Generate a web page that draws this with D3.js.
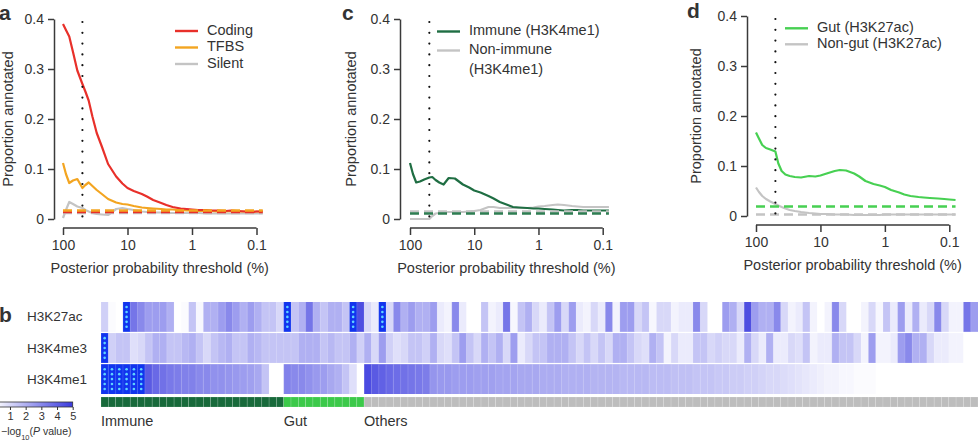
<!DOCTYPE html>
<html><head><meta charset="utf-8">
<script src="https://cdn.jsdelivr.net/npm/d3@7"></script>
<style>
body{margin:0;background:#fff}
svg{display:block}
text{font-family:"Liberation Sans",Arial,Helvetica,sans-serif;fill:#333}
</style>
</head><body>
<svg id="chart" width="978" height="444"></svg>
<script>
// ---------- line-panel data ----------
const thresholds = [100, 90, 80, 70, 60, 50, 45, 40, 35, 30, 25, 20, 15, 12, 10, 8, 6, 5, 4, 3, 2.5, 2, 1.5, 1.2, 1, 0.8, 0.6, 0.5, 0.4, 0.3, 0.25, 0.2, 0.15, 0.12, 0.1, 0.08];
const coding = [0.39, 0.378, 0.365, 0.334, 0.297, 0.27, 0.255, 0.237, 0.205, 0.172, 0.145, 0.11, 0.085, 0.071, 0.062, 0.056, 0.05, 0.045, 0.038, 0.032, 0.028, 0.024, 0.021, 0.02, 0.019, 0.018, 0.018, 0.017, 0.017, 0.016, 0.017, 0.016, 0.015, 0.014, 0.015, 0.015];
const tfbs = [0.112, 0.09, 0.072, 0.077, 0.08, 0.062, 0.068, 0.073, 0.066, 0.058, 0.05, 0.04, 0.033, 0.03, 0.029, 0.026, 0.023, 0.022, 0.021, 0.02, 0.019, 0.019, 0.018, 0.017, 0.017, 0.016, 0.016, 0.016, 0.015, 0.015, 0.016, 0.015, 0.015, 0.014, 0.015, 0.015];
const silent = [0.002, 0.018, 0.034, 0.03, 0.025, 0.022, 0.018, 0.015, 0.012, 0.01, 0.009, 0.008, 0.02, 0.022, 0.02, 0.018, 0.015, 0.014, 0.013, 0.013, 0.012, 0.012, 0.012, 0.012, 0.012, 0.012, 0.011, 0.011, 0.011, 0.011, 0.011, 0.011, 0.011, 0.011, 0.011, 0.011];
const immune = [0.112, 0.09, 0.073, 0.075, 0.079, 0.083, 0.084, 0.078, 0.073, 0.069, 0.082, 0.081, 0.069, 0.063, 0.057, 0.053, 0.046, 0.041, 0.034, 0.028, 0.024, 0.023, 0.022, 0.021, 0.021, 0.02, 0.019, 0.018, 0.017, 0.018, 0.018, 0.017, 0.017, 0.017, 0.017, 0.017];
const nonImmune = [0, 0, 0, 0, 0, 0, 0.006, 0.011, 0.012, 0.013, 0.014, 0.014, 0.014, 0.015, 0.016, 0.018, 0.024, 0.024, 0.022, 0.022, 0.022, 0.022, 0.022, 0.023, 0.025, 0.026, 0.028, 0.029, 0.028, 0.026, 0.025, 0.024, 0.024, 0.024, 0.024, 0.024];
const gut = [0.167, 0.155, 0.142, 0.136, 0.133, 0.129, 0.105, 0.09, 0.083, 0.08, 0.078, 0.077, 0.08, 0.079, 0.081, 0.085, 0.09, 0.092, 0.091, 0.085, 0.079, 0.07, 0.064, 0.061, 0.058, 0.052, 0.047, 0.043, 0.04, 0.038, 0.037, 0.036, 0.035, 0.034, 0.033, 0.032];
const nonGut = [0.057, 0.048, 0.04, 0.034, 0.029, 0.024, 0.021, 0.018, 0.015, 0.012, 0.01, 0.008, 0.006, 0.005, 0.004, 0.004, 0.003, 0.003, 0.003, 0.002, 0.002, 0.002, 0.002, 0.002, 0.003, 0.003, 0.003, 0.003, 0.003, 0.003, 0.003, 0.003, 0.003, 0.003, 0.003, 0.003];
// dashed background (expected) proportions
const baselinesA = [0.014, 0.017, 0.012];   // coding, TFBS, silent
const baselinesC = [0.015, 0.011];          // non-immune, immune
const baselinesD = [0.003, 0.019];          // non-gut, gut
const cutoff = 50;                          // dotted threshold (%)
const yTicks = [0, 0.1, 0.2, 0.3, 0.4];
const xTicks = [100, 10, 1, 0.1];
const xTickLabels = ["100", "10", "1", "0.1"];

// ---------- heatmap data ----------
const marks = ["H3K27ac", "H3K4me3", "H3K4me1"];
const groups = ["Immune", "Gut", "Others"];
const groupSizes = [25, 11, 84];
const k27acImmune = [1.2, 0.1, 0, 6, 3.5, 3.0, 2.5, 2.5, 2.5, 2.0, 0, 0.1, 1.5, 0.2, 2.0, 2.0, 2.5, 3.0, 2.5, 2.0, 2.5, 2.0, 1.5, 1.5, 1.0];
const k27acGut = [6, 1.5, 2.0, 3.5, 2.0, 1.5, 2.0, 2.0, 1.5, 6, 4.5];
const k27acOthers = [1.0, 0.5, 6, 1.0, 3.0, 2.0, 2.5, 2.0, 2.0, 2.5,
  0.5, 0.3, 3.0, 0.5, 0, 0, 1.5, 0.3, 0.5, 3.5,
  0.2, 1.5, 2.0, 1.0, 0.5, 1.5, 2.5, 1.0, 2.5, 0.5,
  0.3, 1.0, 0.5, 3.0, 0.3, 2.5, 2.5, 1.0, 1.5, 0.2,
  1.0, 1.0, 0.3, 0.5, 0.5, 3.0, 1.0, 0, 0, 2.5,
  2.0, 1.0, 4.5, 2.5, 2.0, 2.0, 3.0, 1.0, 0.3, 0.5,
  1.5, 0.3, 0, 0.3, 3.0, 1.0, 0, 0, 0.3, 1.0,
  0.2, 1.5, 0.5, 2.5, 0.5, 2.0, 0.5, 1.0, 3.0, 1.0,
  0.3, 0.3, 3.5, 2.5];
const k4me3Immune = [6, 1.2, 1.5, 1.5, 0.8, 1.0, 1.5, 2.0, 2.0, 1.5, 1.5, 1.8, 2.0, 1.5, 1.0, 1.5, 1.8, 2.0, 1.5, 1.5, 2.0, 1.8, 1.5, 1.5, 1.5];
const k4me3Gut = [1.5, 1.5, 2.0, 2.0, 2.0, 1.5, 1.8, 1.5, 1.5, 2.0, 1.2];
const k4me3Others = [2.0, 1.0, 2.5, 1.2, 0.8, 1.0, 1.5, 1.5, 1.2, 2.0,
  1.0, 0.8, 1.5, 2.5, 1.5, 1.0, 2.0, 1.5, 2.0, 1.0,
  2.5, 0.5, 1.0, 1.5, 1.5, 2.0, 2.0, 2.0, 1.5, 1.0,
  1.5, 1.0, 1.5, 1.0, 2.0, 2.0, 1.5, 1.0, 0.8, 2.0,
  1.5, 0.3, 1.0, 0.5, 0.5, 1.5, 1.5, 1.0, 1.2, 1.0,
  1.0, 0.5, 2.0, 1.0, 0.5, 2.0, 0.5, 0.5, 1.0, 0.8,
  1.5, 0.3, 0.5, 0.5, 2.0, 1.5, 1.5, 1.0, 0.3, 2.5,
  0.3, 0.3, 0.5, 2.5, 3.0, 2.0, 2.0, 1.0, 0.5, 0.5,
  0.3, 0.3, 0, 0];
const k4me1Immune = [6, 6, 6, 6, 6, 6, 4.2, 3.8, 3.6, 3.4, 3.3, 3.2, 3.2, 3.0, 3.0, 2.8, 2.8, 2.7, 2.6, 2.5, 2.4, 2.2, 1.5, 0, 0];
const k4me1Gut = [3.2, 3.0, 3.0, 2.8, 2.6, 2.5, 2.2, 2.0, 1.5, 0.8, 0];
const k4me1Others = [4.6, 4.2, 4.0, 3.8, 3.7, 3.6, 3.5, 3.4, 3.3, 2.7,
  2.6, 2.6, 2.5, 2.5, 2.5, 2.4, 2.4, 2.4, 2.3, 2.3,
  2.3, 2.2, 2.2, 2.2, 2.1, 2.1, 2.1, 2.0, 2.0, 2.0,
  2.0, 1.9, 1.9, 1.9, 1.9, 1.8, 1.8, 1.8, 1.8, 1.7,
  1.7, 1.7, 1.6, 1.6, 1.6, 1.5, 1.5, 1.5, 1.4, 1.4,
  1.3, 1.3, 1.2, 1.2, 1.1, 1.0, 1.0, 0.9, 0.8, 0.7,
  0.6, 0.5, 0.4, 0.3, 0.3, 0.2, 0.2, 0.1, 0.1, 0.1,
  0, 0, 0, 0, 0, 0, 0, 0, 0, 0,
  0, 0, 0, 0];
const sigLevel = 5;  // cells above this are significant (starred)
const legendTicks = [1, 2, 3, 4, 5];

// ---------- drawing ----------
const svg = d3.select("#chart");
const FONT = 14;

function linePanel(cfg) {
  const g = svg.append("g");
  const x = d3.scaleLog().domain([100, 0.1]).range([cfg.x0, cfg.x1]);
  const y = d3.scaleLinear().domain([0, 0.4]).range([cfg.yb, cfg.yt]);

  const yAx = g.append("g").attr("transform", `translate(${cfg.ax},0)`)
    .call(d3.axisLeft(y).tickValues(yTicks).tickSize(6).tickSizeOuter(0).tickPadding(4)
      .tickFormat(d => d === 0 ? "0" : d3.format(".1f")(d)));
  const xAx = g.append("g").attr("transform", `translate(0,${cfg.axy})`)
    .call(d3.axisBottom(x).tickValues(xTicks).tickSize(7).tickSizeOuter(0).tickPadding(5)
      .tickFormat((d, i) => xTickLabels[i]));
  [yAx, xAx].forEach(a => {
    a.selectAll("path,line").attr("stroke", "#3a3a3a").attr("stroke-width", 1.5);
    a.selectAll("text").style("font-size", FONT + "px").attr("fill", "#333");
  });
  xAx.select("path.domain").attr("d", `M${x(100)},0H${x(0.1)}`);

  g.append("text").attr("transform", `translate(${cfg.ylx},${(cfg.yt + cfg.yb) / 2}) rotate(-90)`)
    .attr("text-anchor", "middle").attr("dominant-baseline", "middle")
    .style("font-size", "14.5px").text("Proportion annotated");
  g.append("text").attr("x", (x(100) + x(0.1)) / 2).attr("y", cfg.axy + 45)
    .attr("text-anchor", "middle").style("font-size", "14.5px")
    .text("Posterior probability threshold (%)");
  g.append("text").attr("x", cfg.lx).attr("y", cfg.ly).style("font-size", "21px")
    .style("font-weight", "bold").attr("fill", "#111").text(cfg.letter);

  const line = d3.line().x((d, i) => x(thresholds[i])).y(d => y(d));
  cfg.series.forEach(s => {
    g.append("path").datum(s.values).attr("d", line).attr("fill", "none")
      .attr("stroke", s.color).attr("stroke-width", 2.2).attr("stroke-linejoin", "round");
  });
  cfg.baselines.forEach(b => {
    g.append("path").datum([thresholds[0], thresholds[thresholds.length - 1]])
      .attr("d", d3.line().x(t => x(t)).y(() => y(b.value)))
      .attr("stroke", b.color).attr("stroke-width", 2.4).attr("stroke-dasharray", "9,5").attr("fill", "none");
  });
  g.append("line").attr("x1", x(cutoff)).attr("x2", x(cutoff))
    .attr("y1", cfg.yt + 3).attr("y2", cfg.yb + 7)
    .attr("stroke", "#111").attr("stroke-width", 2.2).attr("stroke-linecap", "round")
    .attr("stroke-dasharray", "0,10.8");

  cfg.legend.forEach(l => {
    if (l.color) {
      g.append("line").attr("x1", cfg.legX).attr("x2", cfg.legX + 23).attr("y1", l.y).attr("y2", l.y)
        .attr("stroke", l.color).attr("stroke-width", 2.4);
    }
    g.append("text").attr("x", cfg.legX + 32).attr("y", l.y).attr("dominant-baseline", "middle")
      .style("font-size", "14.5px").text(l.label);
  });
}

const RED = "#e8302a", ORANGE = "#f3a521", LGRAY = "#c4c4c4", DGREEN = "#1f6e43", LGREEN = "#47d052";

linePanel({ letter: "a", lx: -1, ly: 20, x0: 63, x1: 256.5, yt: 19, yb: 219, ax: 54, axy: 228, legX: 175, ylx: 9,
  series: [{ values: silent, color: LGRAY }, { values: tfbs, color: ORANGE }, { values: coding, color: RED }],
  baselines: [{ value: baselinesA[2], color: LGRAY }, { value: baselinesA[0], color: RED }, { value: baselinesA[1], color: ORANGE }],
  legend: [{ y: 31, label: "Coding", color: RED }, { y: 47.5, label: "TFBS", color: ORANGE }, { y: 64, label: "Silent", color: LGRAY }] });

linePanel({ letter: "c", lx: 342, ly: 20, x0: 410, x1: 602.7, yt: 19, yb: 219, ax: 400, axy: 228, legX: 437, ylx: 352,
  series: [{ values: nonImmune, color: LGRAY }, { values: immune, color: DGREEN }],
  baselines: [{ value: baselinesC[0], color: LGRAY }, { value: baselinesC[1], color: "#2e7d52" }],
  legend: [{ y: 31.5, label: "Immune (H3K4me1)", color: DGREEN }, { y: 50.5, label: "Non-immune", color: LGRAY }, { y: 70.5, label: "(H3K4me1)" }] });

linePanel({ letter: "d", lx: 687, ly: 18, x0: 756, x1: 949.3, yt: 16, yb: 216, ax: 747, axy: 225, legX: 785, ylx: 697,
  series: [{ values: nonGut, color: LGRAY }, { values: gut, color: LGREEN }],
  baselines: [{ value: baselinesD[0], color: LGRAY }, { value: baselinesD[1], color: LGREEN }],
  legend: [{ y: 28.3, label: "Gut (H3K27ac)", color: LGREEN }, { y: 44.3, label: "Non-gut (H3K27ac)", color: LGRAY }] });

// ---------- heatmap (panel b) ----------
const rows = [
  k27acImmune.concat(k27acGut, k27acOthers),
  k4me3Immune.concat(k4me3Gut, k4me3Others),
  k4me1Immune.concat(k4me1Gut, k4me1Others)
];
const nCols = d3.sum(groupSizes);
const colGroup = [];
groups.forEach((gname, gi) => { for (let k = 0; k < groupSizes[gi]; k++) colGroup.push(gname); });

const hx = d3.scaleBand().domain(d3.range(nCols)).range([101, 978]).paddingInner(0);
const hy = d3.scaleBand().domain(marks).range([302, 394]).paddingInner(0.04);
const color = d3.scaleLinear().domain([0, sigLevel]).range(["#ffffff", "#3a3ade"]).clamp(true);
const SIG = "#1134ee", DOT = "#5fd3ff";

const hb = svg.append("g");
marks.forEach((m, ri) => {
  const r = hb.append("g");
  r.selectAll("rect").data(rows[ri]).join("rect")
    .attr("x", (d, i) => hx(i)).attr("y", hy(m))
    .attr("width", hx.bandwidth() + 0.3).attr("height", hy.bandwidth())
    .attr("fill", d => d > sigLevel ? SIG : color(d));
  r.selectAll("line.sep").data(rows[ri]).join("line").attr("class", "sep")
    .attr("x1", (d, i) => hx(i)).attr("x2", (d, i) => hx(i))
    .attr("y1", hy(m)).attr("y2", hy(m) + hy.bandwidth())
    .attr("stroke", "#fff").attr("stroke-opacity", 0.25).attr("stroke-width", 0.6);
  const sigIdx = rows[ri].map((d, i) => d > sigLevel ? i : -1).filter(i => i >= 0);
  sigIdx.forEach(i => {
    d3.range(5).forEach(k => {
      r.append("circle").attr("cx", hx(i) + hx.bandwidth() / 2)
        .attr("cy", hy(m) + hy.bandwidth() * (0.17 + k * 0.165)).attr("r", 1.3).attr("fill", DOT);
    });
  });
  hb.append("text").attr("x", 27).attr("y", hy(m) + hy.bandwidth() / 2 + 1)
    .attr("dominant-baseline", "middle").style("font-size", "13.5px").text(m);
});

const groupColors = { Immune: "#186a3b", Gut: "#3cc94a", Others: "#bdbdbd" };
hb.selectAll("rect.cat").data(colGroup).join("rect").attr("class", "cat")
  .attr("x", (d, i) => hx(i)).attr("y", 397).attr("width", hx.bandwidth()).attr("height", 10)
  .attr("fill", d => groupColors[d]).attr("stroke", "#ffffff").attr("stroke-opacity", 0.25).attr("stroke-width", 0.6);
let start = 0;
groups.forEach((gname, gi) => {
  hb.append("text").attr("x", hx(start)).attr("y", 426).style("font-size", "14.5px").text(gname);
  start += groupSizes[gi];
});
hb.append("text").attr("x", -1).attr("y", 322).style("font-size", "21px").style("font-weight", "bold")
  .attr("fill", "#111").text("b");

// colour legend
const lx = d3.scaleLinear().domain([0, sigLevel]).range([-5.7, 72.7]);
const defs = svg.append("defs");
const grad = defs.append("linearGradient").attr("id", "lg");
grad.append("stop").attr("offset", "0%").attr("stop-color", color(0));
grad.append("stop").attr("offset", "100%").attr("stop-color", color(sigLevel));
svg.append("rect").attr("x", lx(0)).attr("y", 402).attr("width", lx(sigLevel) - lx(0)).attr("height", 5)
  .attr("fill", "url(#lg)").attr("stroke", "#333").attr("stroke-width", 0.8);
const legAx = svg.append("g").attr("transform", "translate(0,407)")
  .call(d3.axisBottom(lx).tickValues(legendTicks).tickSize(3).tickPadding(2).tickFormat(d3.format("d")));
legAx.select("path.domain").remove();
legAx.selectAll("line").attr("stroke", "#333");
legAx.selectAll("text").style("font-size", "11px").attr("fill", "#333");
const lt = svg.append("text").attr("x", 1).attr("y", 435).attr("text-anchor", "start").style("font-size", "10.5px");
lt.append("tspan").text("\u2212log");
lt.append("tspan").attr("baseline-shift", "sub").style("font-size", "7.5px").text("10");
lt.append("tspan").text("(");
lt.append("tspan").style("font-style", "italic").text("P");
lt.append("tspan").text(" value)");
</script>
</body></html>
